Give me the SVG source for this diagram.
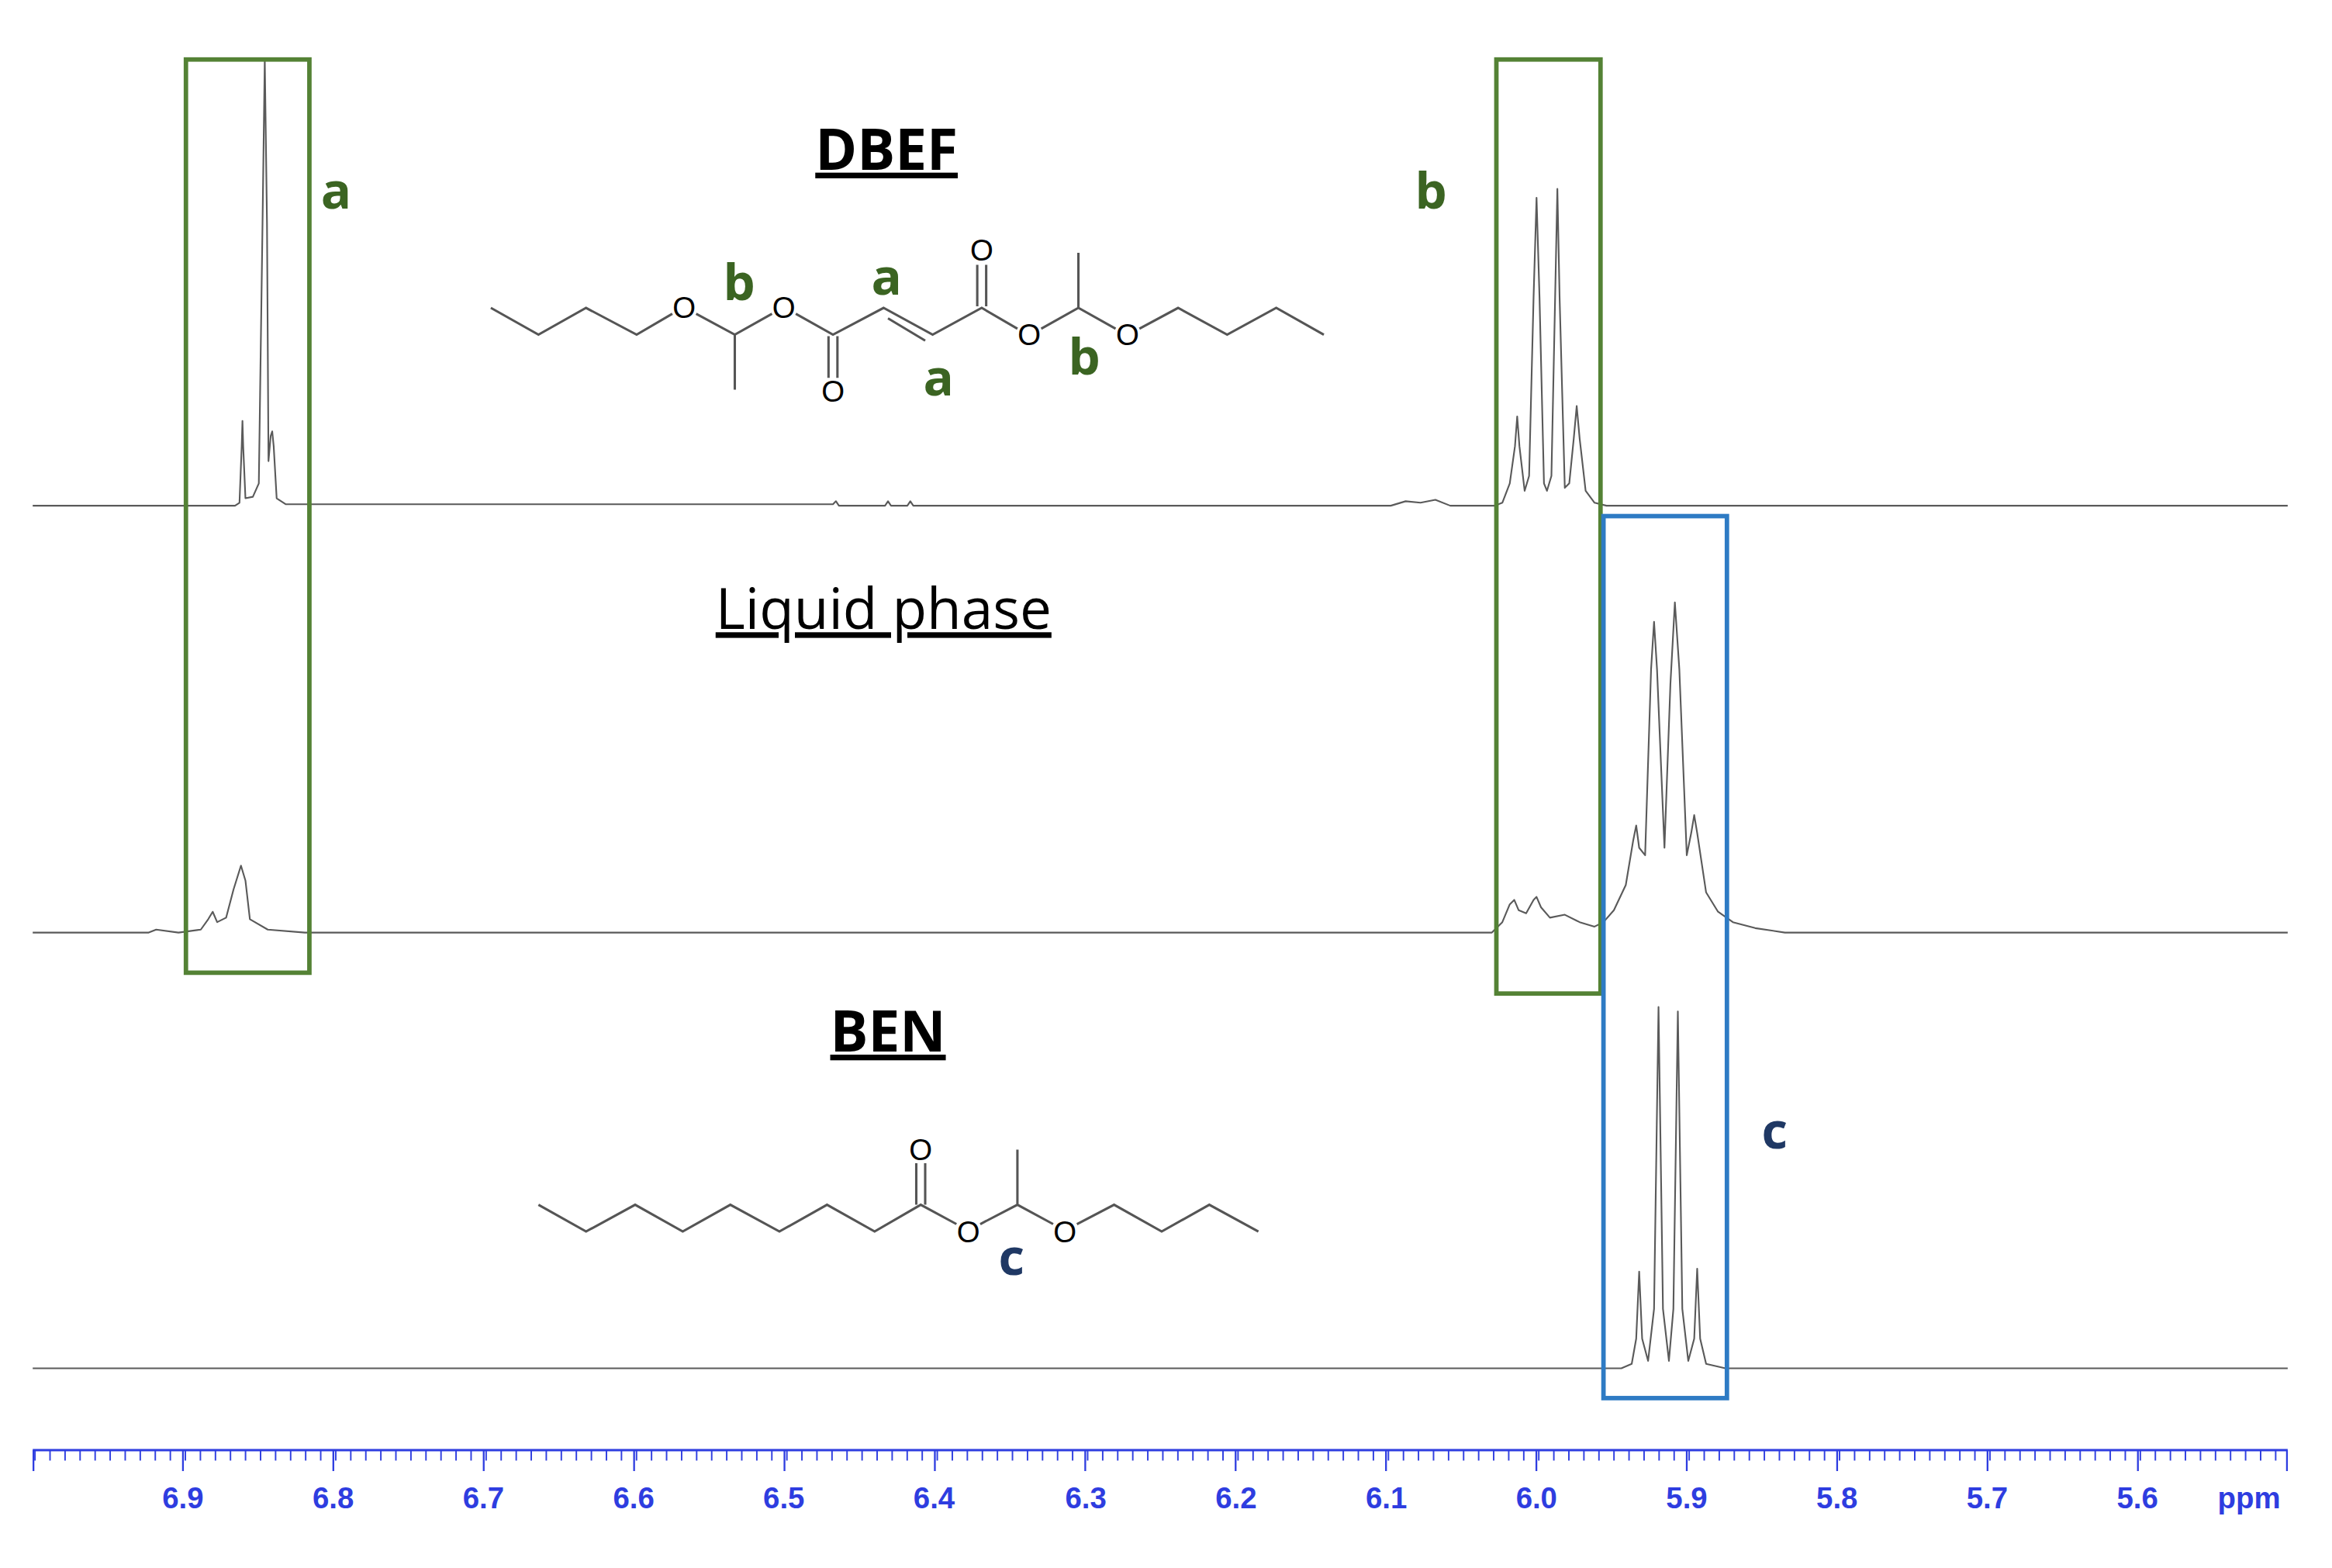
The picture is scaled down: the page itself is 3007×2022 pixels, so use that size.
<svg xmlns="http://www.w3.org/2000/svg" width="3007" height="2022" viewBox="0 0 3007 2022">
<defs>
<style>
.tr{fill:none;stroke:#5a5a5a;stroke-width:1.1;stroke-linejoin:round}
.bd{fill:none;stroke:#555;stroke-width:1.6}
.o{font-family:"Liberation Sans",Arial,sans-serif;font-size:20px;fill:#000;text-anchor:middle}
.lg{font-family:"Open Sans","Liberation Sans",sans-serif;font-weight:bold;font-size:34px;fill:#3b6422;text-anchor:middle}
.lc{font-family:"Open Sans","Liberation Sans",sans-serif;font-weight:bold;font-size:34px;fill:#1f3864;text-anchor:middle}
.ttl{font-family:"Open Sans","Liberation Sans",sans-serif;font-size:38px;fill:#000;text-anchor:middle;text-decoration:underline}
.ax{font-family:"Liberation Sans",Arial,sans-serif;font-weight:bold;font-size:20px;fill:#2e3de0;text-anchor:middle}
</style>
<pattern id="minor" patternUnits="userSpaceOnUse" x="2.8" y="0" width="10.11" height="20"><rect x="0" y="0" width="1" height="20" fill="#2e3de0"/></pattern>
</defs>
<g transform="scale(1.918)">
<g id="spectra">
<path class="tr" d="M22 340 H158 L161 338 L162.5 300 L163 283 L163.5 300 L165 335 L170 334 L174 325 L176.5 150 L178 40 L179.5 150 L180.5 310 L182 293 L183 290 L184 300 L186 335 L192 339 H560 L562 337 L564 340 H595 L597 337 L599 340 H610 L612 337 L614 340 H935 L945 337 L955 338 L965 336 L975 340 H1005 L1010 338 L1015 325 L1018.5 300 L1020 280 L1021.5 300 L1025 330 L1028 320 L1031 200 L1033 133 L1035 200 L1038 325 L1040 330 L1043 320 L1045.5 200 L1047 127 L1048.5 200 L1052 328 L1055 325 L1058 295 L1060 273 L1062 295 L1066 330 L1072 338 L1080 340 H1538"/>
<path class="tr" d="M22 627 H100 L105 625 L120 627 L135 625 L140 618 L143 613 L146 620 L152 617 L157 598 L162 582 L165 592 L168 618 L180 625 L205 627 H1003 L1010 620 L1015 608 L1018 605 L1021 612 L1026 614 L1031 605 L1033 603 L1036 610 L1042 617 L1052 615 L1062 620 L1072 623 L1078 620 L1085 612 L1093 595 L1098 565 L1100 555 L1102 570 L1106 575 L1110 450 L1112 418 L1114 450 L1119 570 L1123 460 L1126 405 L1129 450 L1134 575 L1137 560 L1139 548 L1141 560 L1147 600 L1155 613 L1165 620 L1180 624 L1200 627 H1538"/>
<path class="tr" d="M22 920 H1090 L1097 917 L1100 900 L1102 855 L1104 900 L1108 915 L1112 880 L1115 677 L1118 880 L1122 915 L1125 880 L1128 680 L1131 880 L1135 915 L1139 900 L1141 853 L1143 900 L1147 917 L1160 920 H1538"/>
</g>
<g id="box-a"><rect x="125" y="40" width="83" height="614" fill="none" stroke="#548235" stroke-width="3"/><text class="lg" x="226" y="140">a</text></g>
<g id="box-b"><rect x="1006" y="40" width="70" height="628" fill="none" stroke="#548235" stroke-width="3"/><text class="lg" x="962" y="140">b</text></g>
<g id="box-c"><rect x="1078" y="347" width="83" height="593" fill="none" stroke="#2e7bc4" stroke-width="3"/><text class="lc" x="1193" y="772">c</text></g>
<g id="title-dbef"><text class="ttl" x="596" y="114" font-weight="bold">DBEF</text></g>
<g id="title-liquid"><text class="ttl" x="594" y="423">Liquid phase</text></g>
<g id="title-ben"><text class="ttl" x="597" y="707" font-weight="bold">BEN</text></g>
<g id="mol-dbef">
<path class="bd" d="M330 207 L362 225 L394 207 L428 225 L452 211 M468 211 L494 225 L519 211 M494 225 V262 M535 211 L560 225 L594 207 L627 225 L660 207 L684 221 M700 221 L725 207 L750 221 M725 207 V170 M766 221 L792 207 L825 225 L858 207 L890 225"/>
<path class="bd" d="M557 226 V254 M563 226 V254 M657 206 V178 M663 206 V178 M597 214 L622 229"/>
<text class="o" x="460" y="214">O</text><text class="o" x="527" y="214">O</text><text class="o" x="560" y="270">O</text><text class="o" x="660" y="175">O</text><text class="o" x="692" y="232">O</text><text class="o" x="758" y="232">O</text>
<text class="lg" x="497" y="202">b</text><text class="lg" x="596" y="198">a</text><text class="lg" x="631" y="266">a</text><text class="lg" x="729" y="252">b</text>
</g>
<g id="mol-ben">
<path class="bd" d="M362 810 L394 828 L427 810 L459 828 L491 810 L524 828 L556 810 L588 828 L619 810 L643 823 M659 823 L684 810 L708 823 M684 810 V773 M724 823 L749 810 L781 828 L813 810 L846 828"/>
<path class="bd" d="M616 810 V782 M622 810 V782"/>
<text class="o" x="619" y="780">O</text><text class="o" x="651" y="835">O</text><text class="o" x="716" y="835">O</text>
<text class="lc" x="680" y="857">c</text>
</g>
<g id="axis">
<line x1="22" y1="975" x2="1538" y2="975" stroke="#2e3de0" stroke-width="1.5"/>
<rect x="22" y="975" width="1516" height="7" fill="url(#minor)"/>
<path d="M123 975 v14 M224.1 975 v14 M325.2 975 v14 M426.3 975 v14 M527.4 975 v14 M628.5 975 v14 M729.6 975 v14 M830.7 975 v14 M931.8 975 v14 M1032.9 975 v14 M1134 975 v14 M1235.1 975 v14 M1336.2 975 v14 M1437.3 975 v14 M22.5 975 v14 M1537.5 975 v14" stroke="#2e3de0" stroke-width="1.2"/>
<text class="ax" x="123" y="1014">6.9</text><text class="ax" x="224" y="1014">6.8</text><text class="ax" x="325" y="1014">6.7</text><text class="ax" x="426" y="1014">6.6</text><text class="ax" x="527" y="1014">6.5</text><text class="ax" x="628" y="1014">6.4</text><text class="ax" x="730" y="1014">6.3</text><text class="ax" x="831" y="1014">6.2</text><text class="ax" x="932" y="1014">6.1</text><text class="ax" x="1033" y="1014">6.0</text><text class="ax" x="1134" y="1014">5.9</text><text class="ax" x="1235" y="1014">5.8</text><text class="ax" x="1336" y="1014">5.7</text><text class="ax" x="1437" y="1014">5.6</text><text class="ax" x="1512" y="1014">ppm</text>
</g>
</g>
</svg>
